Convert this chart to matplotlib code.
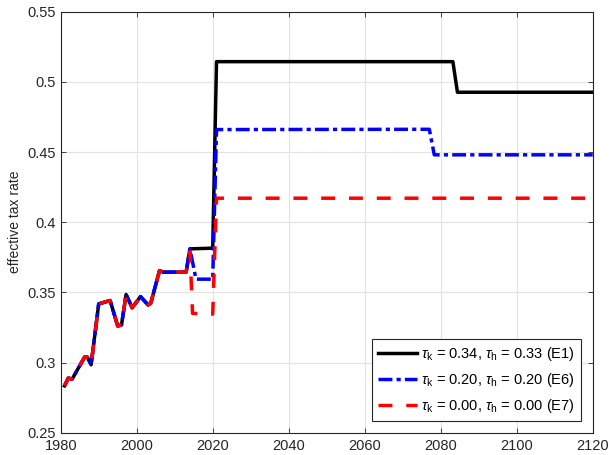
import matplotlib
matplotlib.use('Agg')
import matplotlib.pyplot as plt

plt.rcParams['font.family'] = ['Liberation Sans', 'DejaVu Sans']
plt.rcParams['mathtext.fontset'] = 'custom'
plt.rcParams['mathtext.rm'] = 'Liberation Sans'
plt.rcParams['mathtext.it'] = 'Liberation Sans:italic'
plt.rcParams['font.size'] = 10

# common history (all three scenarios identical up to 2013)
years_hist = [1981, 1982, 1983, 1986.3, 1987, 1988, 1990, 1993, 1995, 1996,
              1997.2, 1998.8, 2001, 2003, 2003.7, 2006, 2007, 2013]
rate_hist = [0.2834, 0.2889, 0.2882, 0.3039, 0.3039, 0.2984, 0.3418, 0.3442,
             0.3260, 0.3268, 0.3485, 0.3390, 0.3470, 0.3410, 0.3423, 0.3655,
             0.3644, 0.3644]

# scenario paths after 2013
years_e1 = [2014, 2020, 2021, 2083.2, 2084.4, 2120]
rate_e1 = [0.3810, 0.3815, 0.5144, 0.5144, 0.4926, 0.4926]

years_e6 = [2014, 2015.6, 2020, 2021, 2077, 2078.3, 2120]
rate_e6 = [0.3810, 0.3594, 0.3594, 0.4660, 0.4662, 0.4480, 0.4480]

years_e7 = [2014, 2014.7, 2020, 2021, 2120]
rate_e7 = [0.3790, 0.3350, 0.3345, 0.4171, 0.4171]

labels = [r'$\tau_{\rm k}$ = 0.34, $\tau_{\rm h}$ = 0.33 (E1)',
          r'$\tau_{\rm k}$ = 0.20, $\tau_{\rm h}$ = 0.20 (E6)',
          r'$\tau_{\rm k}$ = 0.00, $\tau_{\rm h}$ = 0.00 (E7)']

fig = plt.figure(figsize=(6.12, 4.55), dpi=100)
ax = fig.add_axes([0.0992, 0.049, 0.8693, 0.9253])

ax.plot(years_hist + years_e1, rate_hist + rate_e1, color='black', lw=2.5,
        label=labels[0])
ax.plot(years_hist + years_e6, rate_hist + rate_e6, color='blue', lw=2.5,
        dashes=(4, 1.2, 1.2, 1.2), label=labels[1])
ax.plot(years_hist + years_e7, rate_hist + rate_e7, color='red', lw=2.5,
        dashes=(4, 4), label=labels[2])

ax.set_xlim(1980, 2120)
ax.set_ylim(0.25, 0.55)
ax.set_xticks(range(1980, 2121, 20))
ax.set_yticks([0.25, 0.3, 0.35, 0.4, 0.45, 0.5, 0.55])
ax.set_yticklabels(['0.25', '0.3', '0.35', '0.4', '0.45', '0.5', '0.55'])
ax.set_ylabel('effective tax rate', color='#262626')

ax.grid(True, color='#e3e3e3', lw=0.8)
ax.set_axisbelow(True)
ax.tick_params(direction='in', length=3.6, width=0.6, top=True, right=True,
               colors='#262626', labelsize=10.5)
ax.tick_params(axis='x', pad=4.5)
for s in ax.spines.values():
    s.set_color('#262626')
    s.set_linewidth(0.8)

leg = ax.legend(loc='lower right', fontsize=10.5, handlelength=2.7,
                fancybox=False, framealpha=1, edgecolor='#262626',
                borderaxespad=0.8, labelspacing=0.55, handletextpad=0.3,
                borderpad=0.4)
leg.get_frame().set_linewidth(0.8)

fig.savefig('out.png', dpi=100)
